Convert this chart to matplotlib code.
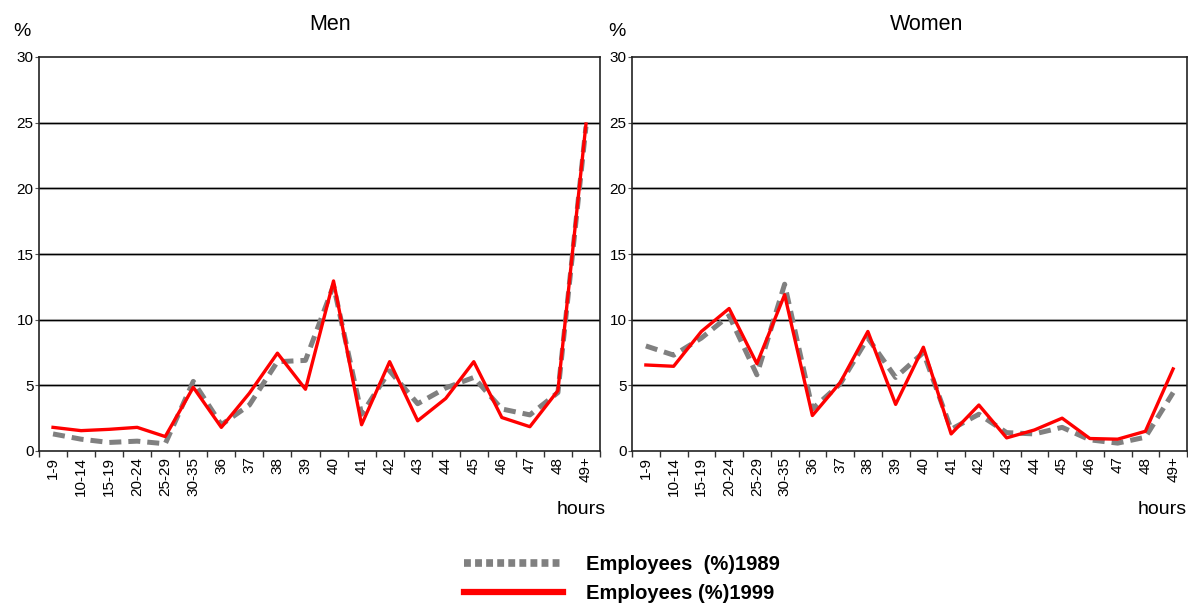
import matplotlib
matplotlib.use("Agg")
import matplotlib.pyplot as plt
from matplotlib.lines import Line2D
import numpy as np

plt.rcParams['font.family'] = ['Liberation Sans', 'DejaVu Sans']

categories = ["1-9", "10-14", "15-19", "20-24", "25-29", "30-35", "36", "37", "38", "39",
              "40", "41", "42", "43", "44", "45", "46", "47", "48", "49+"]

men_1989 = [1.3, 0.9, 0.65, 0.75, 0.55, 5.3, 2.0, 3.5, 6.8, 6.9,
            12.6, 2.8, 6.1, 3.6, 4.8, 5.6, 3.2, 2.75, 4.45, 24.7]
men_1999 = [1.8, 1.55, 1.65, 1.8, 1.1, 4.85, 1.8, 4.4, 7.45, 4.7,
            12.95, 2.0, 6.8, 2.3, 4.0, 6.8, 2.55, 1.85, 4.6, 24.9]
women_1989 = [8.0, 7.3, 8.6, 10.3, 5.8, 12.7, 3.2, 5.1, 8.6, 5.6,
              7.5, 1.65, 2.8, 1.4, 1.3, 1.8, 0.85, 0.6, 1.05, 4.45]
women_1999 = [6.55, 6.45, 9.1, 10.85, 6.65, 11.9, 2.7, 5.2, 9.1, 3.55,
              7.9, 1.3, 3.5, 1.0, 1.6, 2.5, 0.95, 0.9, 1.5, 6.25]

titles = ["Men", "Women"]
label_1989 = "Employees  (%)1989"
label_1999 = "Employees (%)1999"

W, H = 1188, 603
fig = plt.figure(figsize=(W / 100, H / 100), dpi=100)

def ax_rect(x0, x1, y0, y1):
    return [x0 / W, 1 - y1 / H, (x1 - x0) / W, (y1 - y0) / H]

axes = [fig.add_axes(ax_rect(39, 600, 57, 451)),
        fig.add_axes(ax_rect(632, 1187, 57, 451))]
title_x = [330, 927]
pct_x = [22, 617]
hours_x = [606, 1187]

x = np.arange(len(categories))
data = [(men_1989, men_1999), (women_1989, women_1999)]

for i, (ax, title, (d89, d99)) in enumerate(zip(axes, titles, data)):
    ax.set_xlim(-0.5, len(categories) - 0.5)
    ax.set_ylim(0, 30)
    for yv in [5, 10, 15, 20, 25]:
        ax.axhline(yv, color='#bbbbbb', lw=2.2, zorder=1)
        ax.axhline(yv, color='black', lw=0.9, zorder=1.1)
    ax.plot(x, d89, color='#808080', lw=3.6, dashes=(2.4, 1.4), zorder=2,
            solid_capstyle='butt', dash_capstyle='butt')
    ax.plot(x, d99, color='#ff0000', lw=2.4, zorder=3)
    ax.set_yticks([0, 5, 10, 15, 20, 25, 30])
    ax.set_yticklabels(["0", "5", "10", "15", "20", "25", "30"], fontsize=11)
    ax.set_xticks(x)
    ax.set_xticklabels(categories, rotation=90, fontsize=11)
    ax.tick_params(axis='x', which='major', length=0, pad=4)
    ax.set_xticks(np.arange(-0.5, len(categories), 1.0), minor=True)
    ax.tick_params(axis='x', which='minor', length=4, width=1, color='#333333')
    ax.tick_params(axis='y', length=3, width=0.8, pad=1, color='#555555')
    for s in ax.spines.values():
        s.set_color('#222222')
        s.set_linewidth(1.2)
    fig.text(title_x[i] / W, 1 - 25 / H, title, fontsize=15.5, ha='center', va='center')
    fig.text(pct_x[i] / W, 1 - 32 / H, "%", fontsize=14, ha='center', va='center')
    fig.text(hours_x[i] / W, 1 - 510 / H, "hours", fontsize=14, ha='right', va='center')

handles = [Line2D([], [], color='#808080', lw=5.5, dashes=(0.9, 0.55)),
           Line2D([], [], color='#ff0000', lw=4.5)]
fig.legend(handles, [label_1989, label_1999], loc='center',
           bbox_to_anchor=(622 / W, 1 - 579 / H), frameon=False,
           prop={'weight': 'bold', 'size': 14.5}, handlelength=4.9,
           handletextpad=1.15, labelspacing=0.5)

fig.savefig("out.png", dpi=100)
